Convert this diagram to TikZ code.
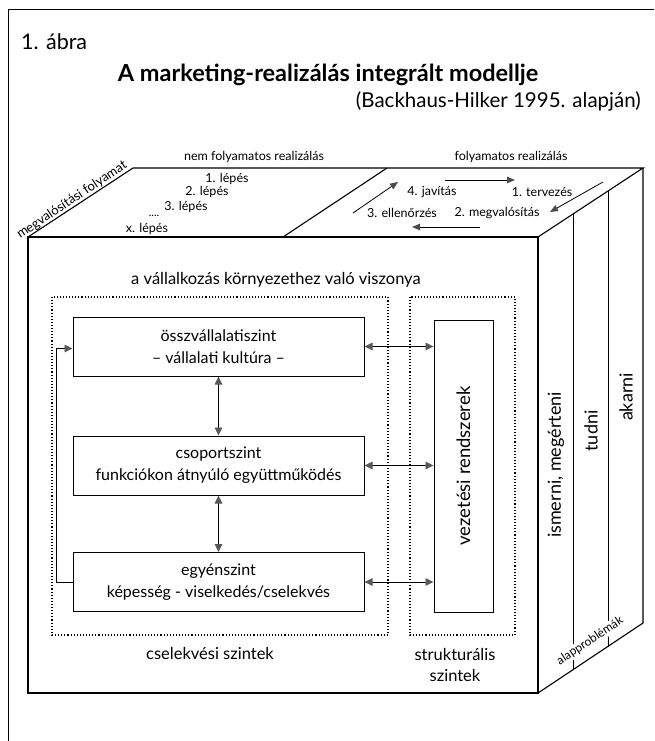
\documentclass[tikz,border=0pt]{standalone}
\usepackage{fontspec}
\setmainfont{Lato}
\usetikzlibrary{arrows.meta}
\begin{document}
\begin{tikzpicture}[x=1pt,y=-1pt,
  edge/.style={line width=1.1pt},
  lvl/.style={draw, line width=1pt, minimum width=291pt, minimum height=59pt, align=center, font=\fontsize{16}{22}\selectfont, inner sep=0pt},
  vbox/.style={draw, line width=1pt, minimum width=59pt, minimum height=292pt, inner sep=0pt, font=\fontsize{18.5}{20}\selectfont},
  dotbox/.style={draw, dotted, line width=1.1pt},
  txt/.style={font=\fontsize{16.5}{20}\selectfont, inner sep=0pt, align=center},
  rtxt/.style={font=\fontsize{18}{20}\selectfont, inner sep=0pt, rotate=90},
  small/.style={font=\fontsize{12.5}{15}\selectfont, inner sep=0pt},
  tiny/.style={font=\fontsize{11}{13}\selectfont, inner sep=0pt},
  ghead/.tip={Triangle[length=8pt,width=7.5pt,color=gray!70!black]},
  dbl/.style={line width=0.9pt, ghead-ghead},
  sing/.style={line width=0.9pt, -ghead},
  cyc/.style={line width=0.8pt, -{Triangle[length=8pt,width=6.5pt,color=gray!60!black]}}
]
\useasboundingbox (0,0) rectangle (654,741);
\fill[white] (0,0) rectangle (654,741);

% outer frame (cropped on right and bottom)
\draw[line width=1pt] (8,741) -- (8,10) -- (654,10);

% header
\node[font=\fontsize{21.5}{24}\selectfont, anchor=west, inner sep=0pt] (fig) at (21,42) {1. ábra};
\node[font=\bfseries\fontsize{23.5}{26}\selectfont, inner sep=0pt] (title) at (328,75) {A marketing-realizálás integrált modellje};
\node[font=\fontsize{20.5}{24}\selectfont, anchor=east, inner sep=0pt] (src) at (641,101) {(Backhaus-Hilker 1995. alapján)};

% cube
\coordinate (FTL) at (28,237);
\coordinate (FTR) at (538,237);
\coordinate (FBR) at (538,693);
\coordinate (BTL) at (133,168);
\coordinate (BTR) at (643,168);
\coordinate (BBR) at (643,623);
\draw[edge] (FTL) rectangle (FBR);
\draw[edge] (FTL) -- (BTL) -- (BTR) -- (FTR);
\draw[edge] (BTR) -- (BBR) -- (FBR);
\draw[edge] (283,237) -- (387,168);
\draw[line width=1pt] (573,214) -- (573,670);
\draw[line width=1pt] (608,191) -- (608,647);

% top face labels
\node[font=\fontsize{13}{15}\selectfont, inner sep=1pt, rotate=33.8, anchor=south] (mf) at (76,206) {megvalósítási folyamat};
\node[small] (nfr) at (254,157) {nem folyamatos realizálás};
\node[small] (s1) at (227,179) {1. lépés};
\node[small] (s2) at (207,192) {2. lépés};
\node[small] (s3) at (186,207) {3. lépés};
\node[tiny] (sd) at (154,216) {....};
\node[small] (sx) at (147,229) {x. lépés};

\node[small] (fr) at (511,157) {folyamatos realizálás};
\node[small] (c4) at (432,192) {4. javítás};
\node[small] (c1) at (542,192) {1. tervezés};
\node[small] (c3) at (402,213) {3. ellenőrzés};
\node[small] (c2) at (497,213) {2. megvalósítás};
\coordinate (a1s) at (445,180);
\coordinate (a1e) at (515,180);
\coordinate (a2s) at (603,182);
\coordinate (a2e) at (550,212);
\coordinate (a3s) at (480,227);
\coordinate (a3e) at (412,227);
\coordinate (a4s) at (353,213);
\coordinate (a4e) at (398,182);
\draw[cyc] (a1s) -- (a1e);
\draw[cyc] (a2s) -- (a2e);
\draw[cyc] (a3s) -- (a3e);
\draw[cyc] (a4s) -- (a4e);

% front face
\node[txt] (env) at (276,280) {a vállalkozás környezethez való viszonya};
\draw[dotbox] (52,297) rectangle (388,635);
\draw[dotbox] (410,297) rectangle (515,635);

\node[lvl] (L1) at (218.5,346.5) {összvállalatiszint\\– vállalati kultúra –};
\node[lvl] (L2) at (218.5,465.5) {csoportszint\\funkciókon átnyúló együttműködés};
\node[lvl] (L3) at (218.5,582) {egyénszint\\képesség - viselkedés/cselekvés};
\node[vbox] (V) at (463.5,466) {\rotatebox{90}{vezetési rendszerek}};

\draw[dbl] (L1.east) -- (L1.east -| V.west);
\draw[dbl] (L2.east) -- (L2.east -| V.west);
\draw[dbl] (L3.east) -- (L3.east -| V.west);
\draw[dbl] (L1.south) -- (L2.north);
\draw[dbl] (L2.south) -- (L3.north);
\draw[sing] (L3.west) -- ++(-16,0) |- ([yshift=-2pt]L1.west);

\node[txt] (cs) at (210,653) {cselekvési szintek};
\node[txt, font=\fontsize{16.5}{21}\selectfont] (st) at (455,665) {strukturális\\szintek};

% right face
\node[rtxt] (r1) at (556,465) {ismerni, megérteni};
\node[rtxt] (r2) at (591,431) {tudni};
\node[rtxt] (r3) at (626,397) {akarni};
\node[font=\fontsize{12}{14}\selectfont, fill=white, inner sep=1pt, rotate=33.7] (ap) at (590,641) {alapproblémák};
\end{tikzpicture}
\end{document}
